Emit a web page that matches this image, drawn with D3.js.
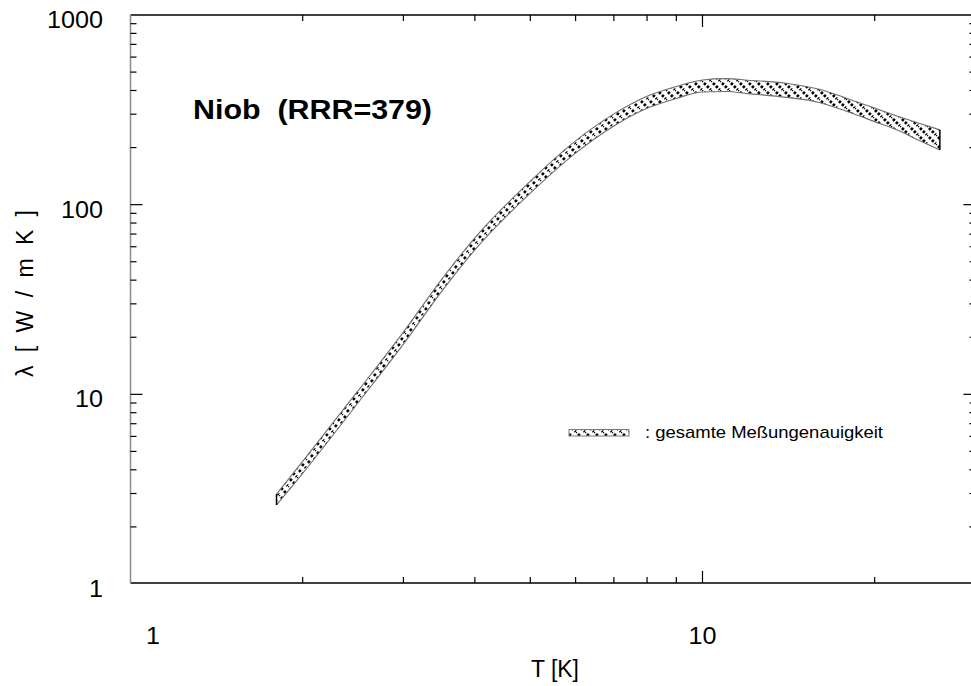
<!DOCTYPE html>
<html>
<head>
<meta charset="utf-8">
<script src="https://cdn.jsdelivr.net/npm/d3@7"></script>
<style>
  body { margin: 0; background: #fff; }
  svg { display: block; }
  text { font-family: "Liberation Sans", Arial, sans-serif; fill: #000; }
</style>
</head>
<body>
<svg id="chart" width="971" height="686"></svg>
<script>
// Thermal conductivity of niobium (RRR = 379): band of total measurement uncertainty
const temperature = [1.8, 2, 2.5, 3, 3.5, 4, 5, 6, 7, 8, 9, 10, 11, 12, 14, 16, 18, 20, 22, 24, 26];
const lambdaUpper = [2.98, 4.43, 10.45, 21.3, 40.4, 66.9, 133, 217, 301, 373, 420, 454, 462, 453, 437, 406, 361, 323, 292, 268, 248];
const lambdaLower = [2.61, 3.83, 9.03, 18.4, 34.9, 57.8, 115, 187, 260, 322, 363, 393, 395, 385, 368, 346, 308, 274, 246, 217, 194];

const xTickValues = [1, 10];
const xTickLabels = ["1", "10"];
const yTickValues = [1, 10, 100, 1000];
const yTickLabels = ["1", "10", "100", "1000"];

const titleText = "Niob\u00a0\u00a0(RRR=379)";
const legendText = ": gesamte Me\u00dfungenauigkeit";
const xTitle = "T [K]";
const yTitle = "\u03bb\u00a0[\u00a0W\u00a0/\u00a0m\u00a0K\u00a0]";

const svg = d3.select("#chart");

const x = d3.scaleLog().domain([1, 30]).range([130.5, 975.4]);
const y = d3.scaleLog().domain([1, 1000]).range([584, 15]);

// dotted hatch used for the uncertainty band
const defs = svg.append("defs");
const pat = defs.append("pattern")
  .attr("id", "hatch")
  .attr("patternUnits", "userSpaceOnUse")
  .attr("width", 9).attr("height", 9);
pat.append("path")
  .attr("d", "M-1,-1 L10,10 M-5,4 L1,10 M4,-5 L10,1")
  .attr("stroke", "#000")
  .attr("stroke-width", 2.7)
  .attr("stroke-dasharray", "2.6 1.6");

const band = temperature.map((t, i) => ({ t, hi: lambdaUpper[i], lo: lambdaLower[i] }));

const area = d3.area()
  .x(d => x(d.t))
  .y0(d => y(d.lo))
  .y1(d => y(d.hi))
  .curve(d3.curveMonotoneX);

svg.append("path")
  .datum(band)
  .attr("d", area)
  .attr("fill", "url(#hatch)")
  .attr("stroke", "none");

const edge = key => d3.line().x(d => x(d.t)).y(d => y(d[key])).curve(d3.curveMonotoneX);
["hi", "lo"].forEach(k => {
  svg.append("path").datum(band).attr("d", edge(k))
    .attr("fill", "none").attr("stroke", "#6f6f6f").attr("stroke-width", 1.1);
});
// closing edges at both ends of the band
[band[0], band[band.length - 1]].forEach(d => {
  svg.append("line")
    .attr("x1", x(d.t)).attr("x2", x(d.t))
    .attr("y1", y(d.hi)).attr("y2", y(d.lo))
    .attr("stroke", "#000").attr("stroke-width", 1.5);
});

// frame
const [x0, x1] = x.range();
const [yb, yt] = y.range();
const frame = svg.append("g").attr("stroke-width", 1.5);
frame.append("line").attr("x1", x0).attr("x2", x1).attr("y1", yt).attr("y2", yt).attr("stroke", "#000");
frame.append("line").attr("x1", x0).attr("x2", x1).attr("y1", yb - 1).attr("y2", yb - 1).attr("stroke", "#000");
frame.append("line").attr("x1", x0).attr("x2", x0).attr("y1", yt).attr("y2", yb - 1).attr("stroke", "#8a8a8a");
frame.append("line").attr("x1", x1).attr("x2", x1).attr("y1", yt).attr("y2", yb - 1).attr("stroke", "#000");

// ticks on all four sides, pointing inward
const isMajor = v => Math.abs(Math.log10(v) - Math.round(Math.log10(v))) < 1e-9;
const ticks = svg.append("g").attr("stroke", "#000").attr("stroke-width", 1.2);
x.ticks().filter(v => v > 1 && v < 30).forEach(v => {
  const len = isMajor(v) ? 12 : 6;
  ticks.append("line").attr("x1", x(v)).attr("x2", x(v)).attr("y1", yb - 1).attr("y2", yb - 1 - len);
  ticks.append("line").attr("x1", x(v)).attr("x2", x(v)).attr("y1", yt).attr("y2", yt + len);
});
y.ticks().filter(v => v > 1 && v < 1000).forEach(v => {
  const len = isMajor(v) ? 12 : 6;
  ticks.append("line").attr("x1", x0).attr("x2", x0 + len).attr("y1", y(v)).attr("y2", y(v));
  ticks.append("line").attr("x1", x1).attr("x2", x1 - len).attr("y1", y(v)).attr("y2", y(v));
});

// tick labels
svg.append("g").selectAll("text").data(yTickValues).join("text")
  .attr("x", 103).attr("y", d => y(d) + 13)
  .attr("text-anchor", "end")
  .attr("textLength", (d, i) => 14 * yTickLabels[i].length)
  .attr("lengthAdjust", "spacingAndGlyphs")
  .style("font-size", "23px")
  .text((d, i) => yTickLabels[i]);

svg.append("g").selectAll("text").data(xTickValues).join("text")
  .attr("x", (d, i) => x(d) + (i === 0 ? 22.5 : 0)).attr("y", 644)
  .attr("text-anchor", "middle")
  .attr("textLength", (d, i) => 14 * xTickLabels[i].length)
  .attr("lengthAdjust", "spacingAndGlyphs")
  .style("font-size", "23px")
  .text((d, i) => xTickLabels[i]);

// axis titles
svg.append("text")
  .attr("x", 555).attr("y", 677)
  .attr("text-anchor", "middle")
  .attr("textLength", 48)
  .attr("lengthAdjust", "spacingAndGlyphs")
  .style("font-size", "23px")
  .text(xTitle);

svg.append("text")
  .attr("transform", "translate(33,293.5) rotate(-90)")
  .attr("text-anchor", "middle")
  .attr("textLength", 167)
  .attr("lengthAdjust", "spacing")
  .style("font-size", "23px")
  .text(yTitle);

// chart title
svg.append("text")
  .attr("x", 193).attr("y", 119)
  .attr("textLength", 239)
  .attr("lengthAdjust", "spacingAndGlyphs")
  .style("font-size", "27px").style("font-weight", "bold")
  .text(titleText);

// legend
svg.append("rect")
  .attr("x", 569).attr("y", 429.5).attr("width", 60).attr("height", 6.5)
  .attr("fill", "url(#hatch)").attr("stroke", "#7a7a7a").attr("stroke-width", 1);
svg.append("text")
  .attr("x", 645).attr("y", 437.5)
  .attr("textLength", 238)
  .attr("lengthAdjust", "spacingAndGlyphs")
  .style("font-size", "17px")
  .text(legendText);
</script>
</body>
</html>
